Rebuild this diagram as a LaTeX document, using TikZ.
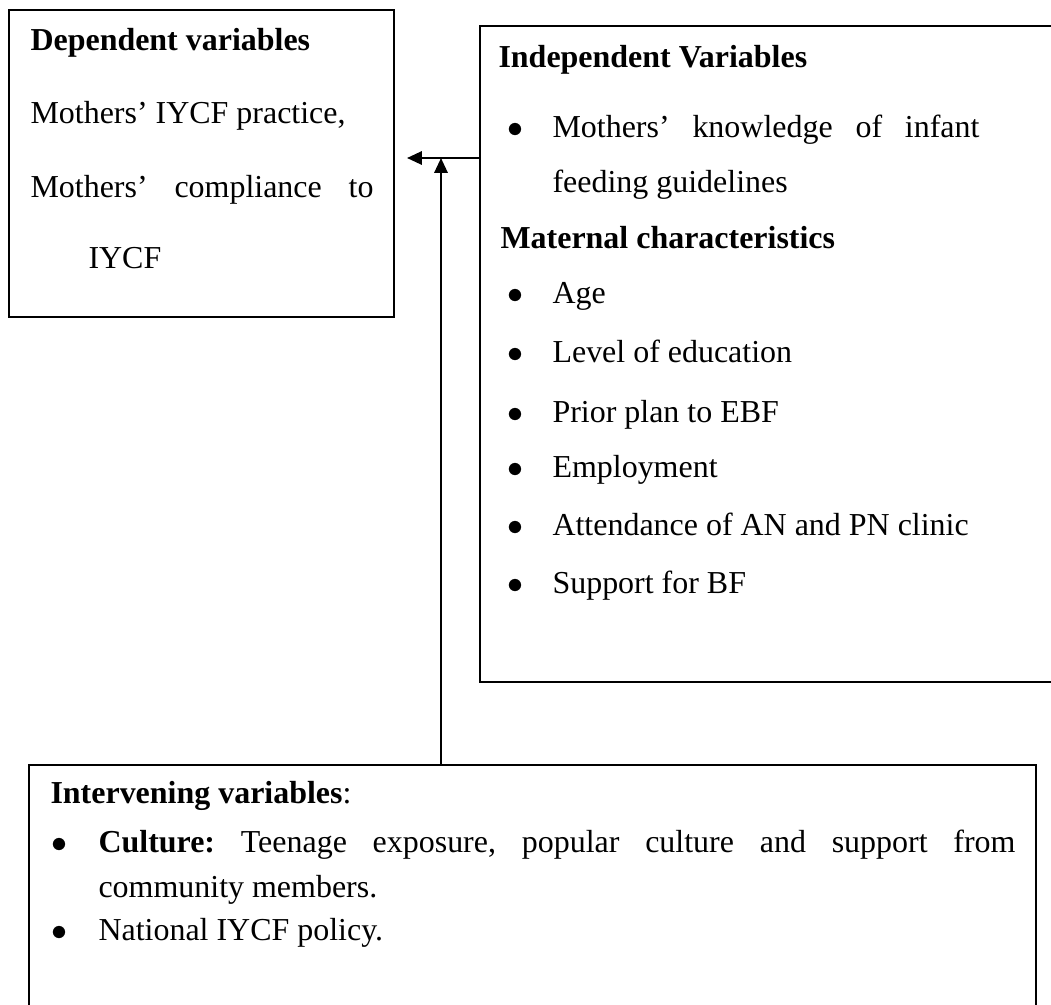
\documentclass[tikz,border=0pt]{standalone}
\usepackage{fontspec}
\setmainfont{Liberation Serif}
\usetikzlibrary{arrows.meta,fit}
\newdimen\pxu
\pxu=0.3755pt
\newcommand{\bul}[1]{\makebox[#1\pxu][l]{\hspace{-0.5pt}$\bullet$}}
\tikzset{
    varbox/.style={draw,line width=0.8pt,inner sep=0pt},
    flow/.style={-{Triangle[length=5.6pt,width=5pt]},line width=0.8pt},
    txt/.style={anchor=base west,inner sep=0pt,font=\fontsize{12}{14}\selectfont\frenchspacing},
    head/.style={txt,font=\fontsize{12}{14}\selectfont\bfseries}
}

\begin{document}
\begin{tikzpicture}[x=\pxu,y=-\pxu]
    \path[use as bounding box,clip] (0,0) rectangle (1051,1004);
    % Boxes
    \node[varbox,fit={(9,10) (394,317)}] (dep) {};
    \node[varbox,fit={(480,26) (1080,682)}] (ind) {};
    \node[varbox,fit={(29,765) (1036,1040)}] (inter) {};
    % Dependent variables
    \node[head] (depT) at (30,50) {Dependent variables};
    \node[txt] (dep1) at (30,123) {Mothers’ IYCF practice,};
    \node[txt] (dep2) at (30,197) {\makebox[343\pxu][s]{Mothers’ compliance to}};
    \node[txt] (dep3) at (88,268) {IYCF};
    % Independent variables
    \node[head] (indT) at (498,67) {Independent Variables};
    \node[txt] (ind1) at (508,137) {\bul{44}\makebox[427\pxu][s]{Mothers’ knowledge of infant}};
    \node[txt] (ind2) at (552,192) {feeding guidelines};
    \node[head] (matT) at (500,248) {Maternal characteristics};
    \node[txt] (age) at (508,303) {\bul{44}Age};
    \node[txt] (edu) at (508,362) {\bul{44}Level of education};
    \node[txt] (plan) at (508,422) {\bul{44}Prior plan to EBF};
    \node[txt] (emp) at (508,477) {\bul{44}Employment};
    \node[txt] (clinic) at (508,535) {\bul{44}Attendance of AN and PN clinic};
    \node[txt] (supp) at (508,593) {\bul{44}Support for BF};
    % Intervening variables
    \node[txt] (intT) at (50,803) {\textbf{Intervening variables}:};
    \node[txt] (int1) at (52,852) {\bul{46}\makebox[917\pxu][s]{\textbf{Culture:} Teenage exposure, popular culture and support from}};
    \node[txt] (int2) at (98,897) {community members.};
    \node[txt] (int3) at (52,940) {\bul{46}National IYCF policy.};
    % Arrows
    \coordinate (join) at (441,158);
    \coordinate (tip) at (407,158);
    \draw[flow] (ind.west |- join) -- (tip);
    \draw[flow] (inter.north -| join) -- (join);
\end{tikzpicture}
\end{document}
